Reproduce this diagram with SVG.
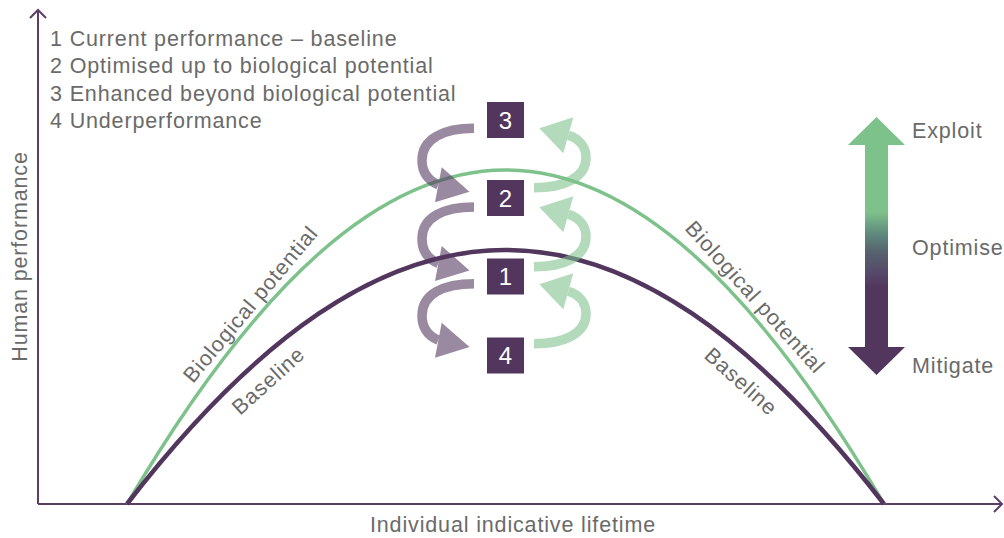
<svg xmlns="http://www.w3.org/2000/svg" xmlns:xlink="http://www.w3.org/1999/xlink" width="1004" height="538" viewBox="0 0 1004 538">
  <defs>
    <style>
      .lbl { font-family: "Liberation Sans", Arial, sans-serif; font-size: 21.5px; fill: #6a6a6a; letter-spacing: 0.85px; }
      .axis { fill: none; stroke: #5a3e66; stroke-width: 2; }
      .box { fill: #52365e; }
      .num { font-family: "Liberation Sans", Arial, sans-serif; font-size: 24px; fill: #ffffff; text-anchor: middle; }
      .parc { fill: none; stroke: #52365e; stroke-width: 9.5; }
      .parh { fill: #52365e; }
      .garc { fill: none; stroke: #7dc18b; stroke-width: 9.5; }
      .garh { fill: #7dc18b; }
    </style>
    <linearGradient id="scale" x1="0" y1="0" x2="0" y2="1">
      <stop offset="0" stop-color="#7dc18b"/>
      <stop offset="0.37" stop-color="#7dc18b"/>
      <stop offset="0.45" stop-color="#5f8b7f"/>
      <stop offset="0.52" stop-color="#56646f"/>
      <stop offset="0.6" stop-color="#574a6a"/>
      <stop offset="0.66" stop-color="#52365e"/>
      <stop offset="1" stop-color="#52365e"/>
    </linearGradient>
    <g id="parrow">
      <path class="parc" d="M0,0 C-30,0 -52,10 -52,32 C-52,44 -46,52 -35.7,56.5"/>
      <polygon class="parh" points="-32.3,39 -4.5,63.4 -39,74"/>
    </g>
    <g id="garrow">
      <path class="garc" d="M0,0 C30,0 52,-10 52,-30 C52,-41 45,-49 34.3,-52.4"/>
      <polygon class="garh" points="39.3,-70.4 5.3,-59.4 29.3,-34.4"/>
    </g>
  </defs>

  <rect width="1004" height="538" fill="#ffffff"/>

  <g id="axes">
    <path class="axis" d="M38,504 L38,10 M30,18 L38,10 L46,18"/>
    <path class="axis" d="M38,504 L1002,504 M994,496 L1002,504 L994,512"/>
    <text class="lbl" transform="translate(27,256.5) rotate(-90)" text-anchor="middle">Human performance</text>
    <text class="lbl" x="513" y="532" text-anchor="middle">Individual indicative lifetime</text>
  </g>

  <g id="legend">
    <text class="lbl" x="50" y="45.5">1 Current performance – baseline</text>
    <text class="lbl" x="50" y="73">2 Optimised up to biological potential</text>
    <text class="lbl" x="50" y="100.5">3 Enhanced beyond biological potential</text>
    <text class="lbl" x="50" y="128">4 Underperformance</text>
  </g>

  <g id="curve-biological">
    <path d="M127,504 C389,58.7 622,58.7 884,504" fill="none" stroke="#7dc18b" stroke-width="3.5"/>
    <text class="lbl" transform="translate(193,384) rotate(-50)">Biological potential</text>
    <text class="lbl" transform="translate(684,229) rotate(48)">Biological potential</text>
  </g>

  <g id="curve-baseline">
    <path d="M127,504 C389,165.3 622,165.3 884,504" fill="none" stroke="#52365e" stroke-width="4.5"/>
    <text class="lbl" transform="translate(240,416) rotate(-42)">Baseline</text>
    <text class="lbl" transform="translate(703,357) rotate(42)">Baseline</text>
  </g>

  <g id="connectors">
    <use xlink:href="#parrow" href="#parrow" transform="translate(474,128.3)" opacity="0.58"/>
    <use xlink:href="#parrow" href="#parrow" transform="translate(474,207)" opacity="0.58"/>
    <use xlink:href="#parrow" href="#parrow" transform="translate(474,283.7)" opacity="0.58"/>
    <use xlink:href="#garrow" href="#garrow" transform="translate(534,187.7)" opacity="0.58"/>
    <use xlink:href="#garrow" href="#garrow" transform="translate(534,266.7)" opacity="0.58"/>
    <use xlink:href="#garrow" href="#garrow" transform="translate(534,343.7)" opacity="0.58"/>
  </g>

  <g id="node-3">
    <rect class="box" x="487" y="102" width="37" height="36"/>
    <text class="num" x="505.5" y="128.5">3</text>
  </g>
  <g id="node-2">
    <rect class="box" x="487" y="180" width="37" height="36"/>
    <text class="num" x="505.5" y="206.5">2</text>
  </g>
  <g id="node-1">
    <rect class="box" x="487" y="258.5" width="37" height="36"/>
    <text class="num" x="505.5" y="285">1</text>
  </g>
  <g id="node-4">
    <rect class="box" x="487" y="337.5" width="37" height="36"/>
    <text class="num" x="505.5" y="364">4</text>
  </g>

  <g id="scale-arrow">
    <polygon points="876.5,117 905,145 888,145 888,347 905,347 876.5,375 848,347 865,347 865,145 848,145" fill="url(#scale)"/>
    <text class="lbl" x="912" y="137.5">Exploit</text>
    <text class="lbl" x="912" y="255">Optimise</text>
    <text class="lbl" x="912" y="373">Mitigate</text>
  </g>
</svg>
